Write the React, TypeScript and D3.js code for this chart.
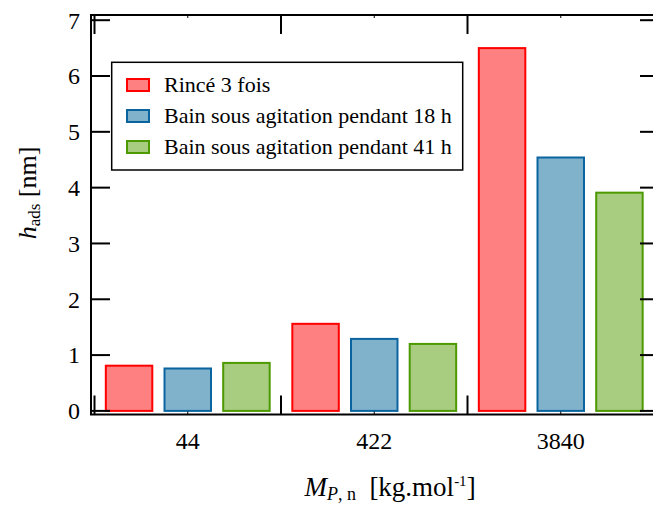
import React from "react";
import * as d3 from "d3";

const categories = ["44", "422", "3840"];
const seriesNames = [
  "Rincé 3 fois",
  "Bain sous agitation pendant 18 h",
  "Bain sous agitation pendant 41 h",
];
const rince = [0.81, 1.56, 6.5];
const bain18 = [0.76, 1.29, 4.54];
const bain41 = [0.86, 1.2, 3.91];
const yTicks = [0, 1, 2, 3, 4, 5, 6, 7];

const fills = ["#ff8080", "#80b2cc", "#a8cc80"];
const strokes = ["#ff0000", "#0a64a0", "#4c9900"];

const W = 653;
const H = 506;
const frame = { left: 91, right: 659, top: 15, bottom: 414.5 };
const FONT = "'Liberation Serif', 'Times New Roman', serif";

export default function App() {
  const values = [rince, bain18, bain41];
  const x = d3.scaleBand<string>().domain(categories).range([94.5, 654]).padding(0);
  const x1 = d3
    .scaleBand<number>()
    .domain([0, 1, 2])
    .range([0, x.bandwidth()])
    .paddingInner(0.208)
    .paddingOuter(0.193);
  const y = d3.scaleLinear().domain([0, 7]).range([410.9, 20.2]);
  const tickLen = 19;
  const boundaries = [...categories.map((c) => x(c) as number), 654];

  return (
    <svg
      width={W}
      height={H}
      style={{ position: "absolute", left: 0, top: 0, background: "#fff" }}
      fontFamily={FONT}
    >
      {/* bars */}
      {categories.map((c, ci) =>
        values.map((s, si) => {
          const bx = (x(c) as number) + (x1(si) as number);
          return (
            <rect
              key={c + si}
              x={bx}
              y={y(s[ci])}
              width={x1.bandwidth()}
              height={y(0) - y(s[ci])}
              fill={fills[si]}
              stroke={strokes[si]}
              strokeWidth={2}
            />
          );
        })
      )}
      {/* frame */}
      <rect
        x={frame.left}
        y={frame.top}
        width={frame.right - frame.left}
        height={frame.bottom - frame.top}
        fill="none"
        stroke="#000"
        strokeWidth={2}
      />
      {/* y ticks */}
      {yTicks.map((t) => (
        <g key={"y" + t}>
          <line x1={frame.left} x2={frame.left + tickLen} y1={y(t)} y2={y(t)} stroke="#000" strokeWidth={2} />
          <line x1={frame.right} x2={frame.right - tickLen} y1={y(t)} y2={y(t)} stroke="#000" strokeWidth={2} />
          <text x={80} y={y(t)} dy="0.35em" textAnchor="end" fontSize={24} fill="#000">
            {t}
          </text>
        </g>
      ))}
      {/* x boundary ticks */}
      {boundaries.map((b, i) => (
        <g key={"xb" + i}>
          <line x1={b} x2={b} y1={frame.bottom} y2={frame.bottom - tickLen} stroke="#000" strokeWidth={2} />
          <line x1={b} x2={b} y1={frame.top} y2={frame.top + tickLen} stroke="#000" strokeWidth={2} />
        </g>
      ))}
      {/* x minor ticks + labels */}
      {categories.map((c) => {
        const cx = (x(c) as number) + x.bandwidth() / 2;
        return (
          <g key={"xl" + c}>
            <line x1={cx} x2={cx} y1={frame.bottom} y2={frame.bottom - 3} stroke="#000" strokeWidth={1} />
            <line x1={cx} x2={cx} y1={frame.top} y2={frame.top + 3} stroke="#000" strokeWidth={1} />
            <text x={cx} y={449} textAnchor="middle" fontSize={24} fill="#000">
              {c}
            </text>
          </g>
        );
      })}
      {/* axis titles */}
      <text x={390} y={496} textAnchor="middle" fontSize={27} fill="#000">
        <tspan fontStyle="italic">M</tspan>
        <tspan fontSize={18} dy={4} fontStyle="italic">P</tspan>
        <tspan fontSize={18}>, n</tspan>
        <tspan dy={-4}>{"\u00a0\u00a0[kg.mol"}</tspan>
        <tspan fontSize={15} dy={-10}>-1</tspan>
        <tspan dy={10}>]</tspan>
      </text>
      <text transform="translate(36,193) rotate(-90)" textAnchor="middle" fontSize={26} fill="#000">
        <tspan fontStyle="italic">h</tspan>
        <tspan fontSize={17} dy={4}>ads</tspan>
        <tspan dy={-4}>{" [nm]"}</tspan>
      </text>
      {/* legend */}
      <rect x={111.7} y={62.3} width={351} height={107.7} fill="#fff" stroke="#000" strokeWidth={1.5} />
      {seriesNames.map((n, i) => (
        <g key={"lg" + i}>
          <rect x={127} y={79 + i * 31} width={22} height={12} fill={fills[i]} stroke={strokes[i]} strokeWidth={2} />
          <text x={164} y={92 + i * 31} fontSize={22} fill="#000">
            {n}
          </text>
        </g>
      ))}
    </svg>
  );
}
